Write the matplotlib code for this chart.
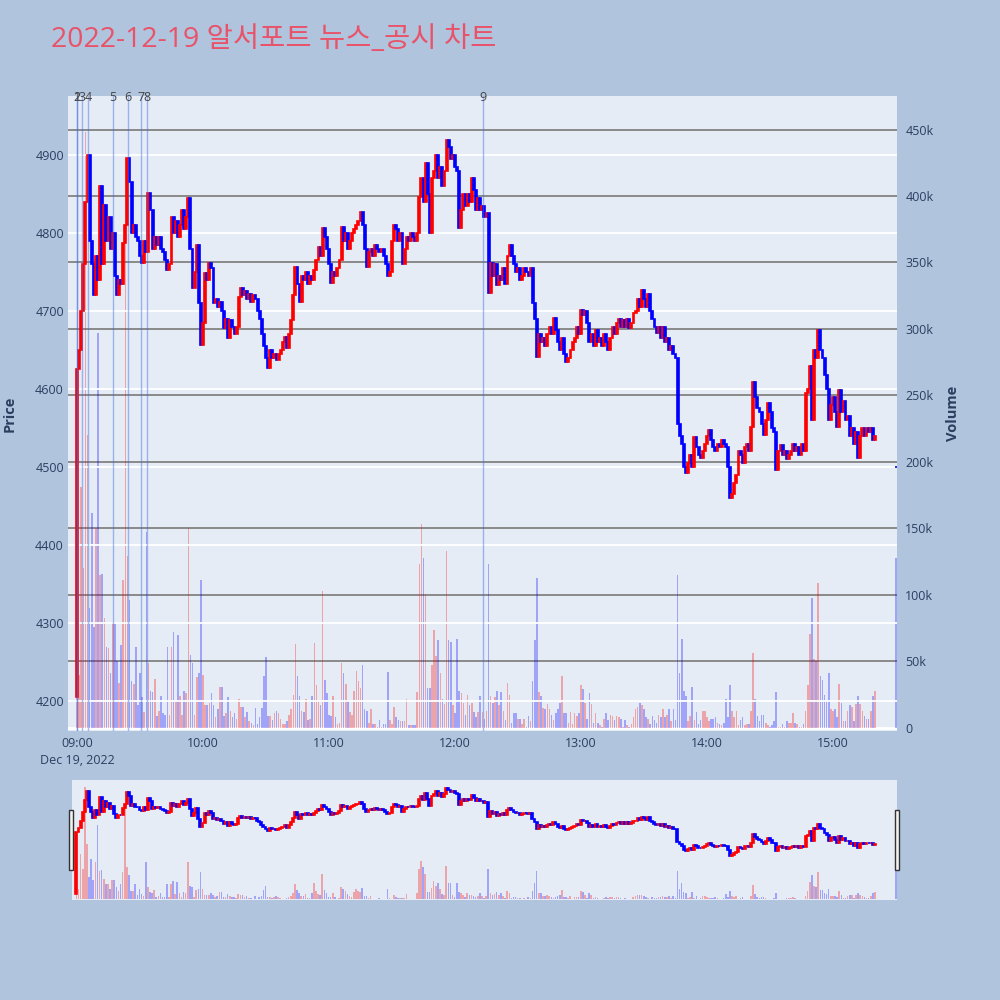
import matplotlib
matplotlib.use("Agg")
import matplotlib.pyplot as plt
import matplotlib.transforms as mtransforms
from matplotlib.patches import Rectangle
import numpy as np

plt.rcParams['font.family'] = ['Open Sans', 'Noto Sans CJK KR', 'DejaVu Sans']

# 1-minute bars from 09:00 (minute 0) to 15:20 (minute 380)
first_open = 4205
closes = [
    4625, 4650, 4700, 4760, 4840, 4900, 4790, 4760, 4720, 4770,
    4740, 4860, 4760, 4836, 4790, 4820, 4780, 4800, 4745, 4720,
    4740, 4735, 4787, 4810, 4896, 4865, 4800, 4810, 4795, 4790,
    4770, 4762, 4790, 4775, 4851, 4830, 4780, 4795, 4785, 4795,
    4780, 4775, 4765, 4752, 4760, 4820, 4800, 4815, 4795, 4810,
    4830, 4805, 4820, 4845, 4780, 4730, 4750, 4785, 4710, 4656,
    4685, 4749, 4740, 4762, 4755, 4710, 4715, 4705, 4712, 4700,
    4678, 4690, 4665, 4688, 4680, 4670, 4680, 4718, 4730, 4720,
    4725, 4715, 4722, 4712, 4720, 4715, 4700, 4690, 4670, 4655,
    4640, 4627, 4650, 4640, 4645, 4637, 4645, 4650, 4660, 4667,
    4652, 4670, 4688, 4720, 4756, 4735, 4712, 4745, 4740, 4750,
    4735, 4745, 4740, 4752, 4765, 4782, 4770, 4806, 4795, 4780,
    4760, 4736, 4750, 4745, 4755, 4765, 4808, 4790, 4800, 4780,
    4790, 4800, 4805, 4810, 4815, 4827, 4810, 4780, 4756, 4775,
    4780, 4770, 4785, 4780, 4775, 4780, 4770, 4760, 4745, 4750,
    4790, 4810, 4805, 4790, 4800, 4760, 4780, 4795, 4790, 4800,
    4795, 4790, 4800, 4846, 4870, 4840, 4890, 4850, 4800, 4870,
    4880, 4900, 4870, 4885, 4860, 4880, 4919, 4910, 4895, 4900,
    4885, 4880, 4806, 4830, 4850, 4835, 4850, 4840, 4871, 4855,
    4830, 4845, 4830, 4835, 4820, 4825, 4723, 4762, 4745, 4760,
    4733, 4745, 4740, 4755, 4735, 4770, 4785, 4770, 4760, 4750,
    4755, 4740, 4745, 4755, 4750, 4745, 4755, 4710, 4690, 4641,
    4670, 4660, 4665, 4655, 4670, 4680, 4670, 4691, 4675, 4660,
    4650, 4665, 4645, 4635, 4640, 4650, 4660, 4665, 4680, 4670,
    4701, 4695, 4700, 4685, 4660, 4670, 4655, 4675, 4660, 4665,
    4655, 4670, 4660, 4650, 4665, 4680, 4670, 4685, 4690, 4680,
    4688, 4680, 4690, 4678, 4685, 4697, 4700, 4715, 4705, 4727,
    4715, 4705, 4722, 4700, 4690, 4680, 4672, 4680, 4665, 4680,
    4660, 4665, 4650, 4655, 4645, 4640, 4555, 4540, 4530, 4500,
    4492, 4505, 4515, 4500, 4538, 4525, 4515, 4512, 4520, 4530,
    4540, 4548, 4535, 4525, 4520, 4530, 4525, 4535, 4530, 4525,
    4500, 4460, 4465, 4480, 4490, 4520, 4515, 4505, 4525, 4530,
    4520, 4551, 4609, 4590, 4575, 4570, 4555, 4541, 4560, 4582,
    4570, 4550, 4545, 4496, 4520, 4528, 4515, 4520, 4510, 4515,
    4520, 4530, 4520, 4525, 4515, 4530, 4520, 4595, 4600, 4630,
    4560, 4650, 4640, 4676, 4650, 4640, 4618, 4600, 4560, 4580,
    4590, 4570, 4551, 4599, 4570, 4585, 4560, 4565, 4540, 4550,
    4530, 4545, 4511, 4540, 4550, 4540, 4550, 4545, 4550, 4535,
    4540,
]
# volume in thousands of shares
volumes_k = [
    30, 40, 181, 120, 448, 220, 90, 162, 76, 150,
    297, 115, 116, 83, 61, 60, 41, 79, 78, 50,
    34, 62, 111, 370, 129, 96, 35, 33, 61, 17,
    41, 23, 12, 147, 49, 28, 27, 37, 9, 13,
    24, 11, 10, 61, 10, 61, 72, 20, 70, 24,
    10, 28, 26, 150, 55, 49, 10, 38, 41, 111,
    40, 17, 17, 19, 26, 17, 8, 14, 31, 31,
    9, 11, 23, 13, 8, 11, 7, 22, 16, 16,
    8, 12, 5, 4, 2, 15, 3, 8, 15, 39,
    53, 9, 9, 6, 11, 13, 11, 7, 3, 3,
    5, 10, 14, 25, 63, 39, 24, 13, 12, 22,
    6, 7, 24, 64, 32, 21, 17, 103, 36, 26,
    10, 9, 24, 8, 3, 4, 49, 41, 33, 21,
    12, 10, 28, 43, 35, 30, 47, 14, 13, 4,
    14, 3, 3, 1, 6, 1, 3, 3, 42, 6,
    3, 16, 8, 6, 5, 5, 5, 22, 2, 2,
    2, 2, 27, 123, 153, 128, 101, 30, 30, 47,
    74, 54, 66, 41, 22, 18, 133, 66, 65, 17,
    11, 67, 28, 26, 19, 10, 25, 17, 19, 12,
    8, 12, 24, 12, 7, 13, 123, 24, 19, 23,
    28, 17, 27, 13, 6, 34, 25, 4, 11, 11,
    7, 7, 3, 7, 1, 9, 5, 35, 66, 113,
    27, 24, 15, 14, 18, 14, 10, 6, 11, 14,
    19, 39, 11, 11, 4, 12, 3, 11, 9, 11,
    32, 29, 19, 7, 26, 18, 4, 11, 4, 2,
    1, 7, 11, 6, 10, 9, 6, 9, 8, 7,
    1, 6, 2, 1, 3, 8, 14, 16, 19, 17,
    14, 8, 7, 3, 9, 6, 4, 10, 8, 14,
    8, 10, 14, 5, 14, 6, 115, 41, 67, 28,
    24, 5, 9, 31, 6, 12, 3, 6, 13, 13,
    8, 5, 7, 7, 8, 4, 3, 2, 4, 22,
    8, 32, 13, 8, 13, 2, 6, 8, 2, 3,
    3, 13, 56, 22, 9, 5, 10, 10, 4, 2,
    1, 2, 5, 27, 1, 1, 3, 1, 5, 4,
    4, 11, 4, 3, 1, 1, 3, 13, 32, 71,
    98, 52, 50, 109, 39, 36, 25, 21, 41, 14,
    13, 14, 8, 33, 19, 5, 5, 13, 17, 16,
    5, 18, 24, 18, 13, 9, 7, 7, 13, 24,
    28,
]
# closing auction at 15:30
auction_minute = 390
auction_price = 4500
auction_volume_k = 128

news_labels = ['1', '2', '3', '4', '5', '6', '7', '8', '9']
news_minutes = [0, 0, 2.2, 5.2, 17, 24.4, 30.4, 33.4, 193.1]

time_ticks = [0, 60, 120, 180, 240, 300, 360]
time_labels = ['09:00\nDec 19, 2022', '10:00', '11:00', '12:00', '13:00', '14:00', '15:00']
price_ticks = [4200, 4300, 4400, 4500, 4600, 4700, 4800, 4900]
volume_ticks = [0, 50000, 100000, 150000, 200000, 250000, 300000, 350000, 400000, 450000]
volume_tick_labels = ['0', '50k', '100k', '150k', '200k', '250k', '300k', '350k', '400k', '450k']

title = '2022-12-19 알서포트 뉴스_공시 차트'

# ---- build OHLC ----
closes = np.array(closes + [auction_price], dtype=float)
opens = np.concatenate([[first_open], closes[:-2], [auction_price]])
minutes = np.append(np.arange(len(closes) - 1), auction_minute)
volumes = np.array(volumes_k + [auction_volume_k], dtype=float) * 1000
up = closes >= opens
up[-1] = False
price_colors = np.where(up, '#ff0000', '#0000ff')
vol_colors = [(1, 0, 0, 0.3) if u else (0, 0, 1, 0.3) for u in up]

TEXT = '#2a3f5f'
PRICE_LIM = (4161.5, 4975.6)
VOL_LIM = (-2300, 475200)


def px_rect(l, t, r, b):
    return [l / 1000, 1 - b / 1000, (r - l) / 1000, (b - t) / 1000]


def draw_candles(ax, lw):
    ax.bar(minutes, np.abs(closes - opens), bottom=np.minimum(opens, closes),
           width=0.9, color=price_colors, edgecolor=price_colors,
           linewidth=lw, zorder=3)


fig = plt.figure(figsize=(10, 10), dpi=100, facecolor='#B0C4DE')

# ---- main chart: volume underneath, price on top ----
ax_vol = fig.add_axes(px_rect(68, 96, 897, 731))
ax_vol.set_facecolor('#E5ECF6')
ax_price = ax_vol.twinx()

for a in (ax_vol, ax_price):
    for s in a.spines.values():
        s.set_visible(False)

ax_vol.bar(minutes, volumes, width=0.75, color=vol_colors, linewidth=0, zorder=2)
for v in volume_ticks[1:]:
    ax_vol.axhline(v, color='#8a8a8a', lw=1.4, zorder=1)
ax_vol.axhline(0, color='white', lw=2, zorder=1)
ax_vol.set_ylim(*VOL_LIM)
ax_vol.set_xlim(-4.3, 390.5)
ax_vol.yaxis.tick_right()
ax_vol.set_yticks(volume_ticks)
ax_vol.set_yticklabels(volume_tick_labels)
ax_vol.tick_params(axis='y', length=0, pad=6, labelsize=9, labelcolor=TEXT)
ax_vol.set_xticks(time_ticks)
ax_vol.set_xticklabels(time_labels, linespacing=1.4)
ax_vol.tick_params(axis='x', length=0, pad=4, labelsize=9, labelcolor=TEXT)

for p in price_ticks:
    ax_price.axhline(p, color='white', lw=1.3, zorder=0.5)
draw_candles(ax_price, 1.2)
ax_price.set_ylim(*PRICE_LIM)
ax_price.yaxis.tick_left()
ax_price.set_yticks(price_ticks)
ax_price.tick_params(axis='y', length=0, pad=3, labelsize=9, labelcolor=TEXT)

# news / disclosure markers
trans = mtransforms.blended_transform_factory(ax_price.transData, ax_price.transAxes)
for lab, m in zip(news_labels, news_minutes):
    ax_price.axvline(m, color=(0.25, 0.41, 0.88, 0.45), lw=1, zorder=4)
    ax_price.text(m, 0.998, lab, transform=trans, ha='center', va='center',
                  fontsize=9, color='#444444', zorder=5)

fig.text(0.010, 1 - 0.4135, 'Price', rotation=90, ha='center', va='center',
         fontsize=10.5, fontweight='bold', color=TEXT)
fig.text(0.953, 1 - 0.4135, 'Volume', rotation=90, ha='center', va='center',
         fontsize=10.5, fontweight='bold', color=TEXT)

# ---- range slider ----
ax_s = fig.add_axes(px_rect(72, 780, 897, 900))
ax_s.set_facecolor('#E5ECF6')
ax_s.bar(minutes, volumes, width=0.75, color=vol_colors, linewidth=0)
ax_s.set_ylim(*VOL_LIM)
ax_s.set_xlim(-2.1, 390.5)
ax_s2 = ax_s.twinx()
draw_candles(ax_s2, 1.2)
ax_s2.set_ylim(*PRICE_LIM)
for a in (ax_s, ax_s2):
    a.set_xticks([])
    a.set_yticks([])
    for s in a.spines.values():
        s.set_visible(False)

for left in (69, 895):
    fig.patches.append(Rectangle((left / 1000, 1 - 870 / 1000), 0.004, 0.06,
                                 transform=fig.transFigure, facecolor='#f2f2f2',
                                 edgecolor='#333333', lw=1))

fig.text(0.051, 1 - 0.040, title, ha='left', va='center', fontsize=20.5,
         color='#E9536A')

fig.savefig('out.png', dpi=100, facecolor=fig.get_facecolor())
